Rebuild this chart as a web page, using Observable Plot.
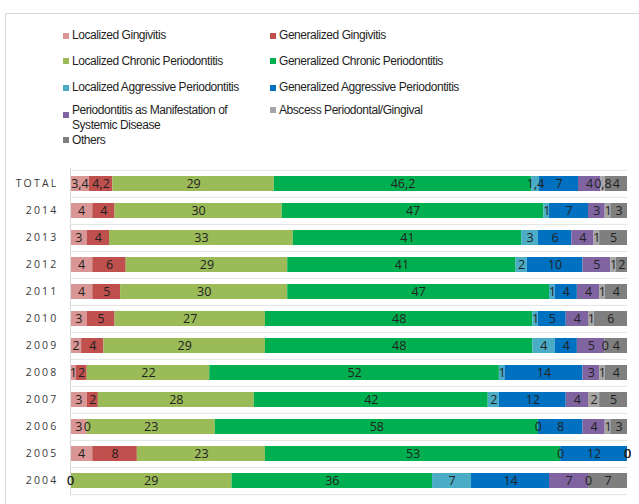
<!DOCTYPE html>
<html><head><meta charset="utf-8">
<script src="https://cdn.jsdelivr.net/npm/d3@7"></script>
<script src="https://cdn.jsdelivr.net/npm/@observablehq/plot@0.6"></script>
<style>
body{margin:0;background:#fff;width:639px;height:504px;overflow:hidden;position:relative;font-family:"Liberation Sans",Arial,sans-serif}
#frame{position:absolute;left:5px;top:13px;width:700px;height:600px;border:1px solid #d9d9d9;box-sizing:border-box}
.item{position:absolute;font-size:12px;color:#1f1f1f;letter-spacing:-0.45px;line-height:15px;white-space:nowrap}
.sw{position:absolute;width:6px;height:6px}
#chart{position:absolute;left:0;top:160px}
</style></head><body>
<div id="frame"></div><div id="legend"></div><div id="chart"></div>
<script>
const rows = ["TOTAL","2014","2013","2012","2011","2010","2009","2008","2007","2006","2005","2004"];
const seriesNames = ["Localized Gingivitis","Generalized Gingivitis","Localized Chronic Periodontitis","Generalized Chronic Periodontitis","Localized Aggressive Periodontitis","Generalized Aggressive Periodontitis","Periodontitis as Manifestation of Systemic Disease","Abscess Periodontal/Gingival","Others"];
const colors = ["#DA9694","#C0504D","#9BBB59","#00B050","#4BACC6","#0070C0","#8064A2","#A6A6A6","#7F7F7F"];
const localizedGingivitis   = [3.4,4,3,4,4,3,2,1,3,3,4,0];
const generalizedGingivitis = [4.2,4,4,6,5,5,4,2,2,0,8,0];
const localizedChronic      = [29,30,33,29,30,27,29,22,28,23,23,29];
const generalizedChronic    = [46.2,47,41,41,47,48,48,52,42,58,53,36];
const localizedAggressive   = [1.4,1,3,2,1,1,4,1,2,0,0,7];
const generalizedAggressive = [7,7,6,10,4,5,4,14,12,8,12,14];
const systemicDisease       = [4,3,4,5,4,4,5,3,4,4,0,7];
const abscess               = [0.8,1,1,1,1,1,0,1,2,1,0,0];
const others                = [4,3,5,2,4,6,4,4,5,3,0,7];
const seriesValues = [localizedGingivitis,generalizedGingivitis,localizedChronic,generalizedChronic,localizedAggressive,generalizedAggressive,systemicDisease,abscess,others];

const data = rows.flatMap((r,i)=>seriesValues.map((arr,j)=>({row:r, series:seriesNames[j], value:arr[i]})));
const fmt = v => String(v).replace(".", ",");

// legend
const legendPos = [[63,72,35.7],[270,279,35.7],[63,72,61],[270,279,61],[63,72,87.7],[270,279,87.7],[63,72,110],[270,279,110],[63,72,140]];
const legend = document.getElementById("legend");
seriesNames.forEach((name,j)=>{
  const [sx,tx,cy] = legendPos[j];
  const sw = document.createElement("div");
  sw.className="sw"; sw.style.background=colors[j];
  sw.style.left=sx+"px"; sw.style.top=(j===6?cy+2:cy-3)+"px";
  legend.appendChild(sw);
  const t = document.createElement("div");
  t.className="item"; t.style.left=tx+"px"; t.style.top=(cy-7.5)+"px";
  if (j===6) { t.innerHTML = "Periodontitis as Manifestation of<br>Systemic Disease"; }
  else t.textContent = name;
  legend.appendChild(t);
});

const step = 327/12;
const chart = Plot.plot({
  width: 639, height: 344,
  marginLeft: 70, marginRight: 12, marginTop: 8, marginBottom: 9,
  x: {domain:[0,100], axis:null},
  y: {domain: rows, paddingInner:0.45, paddingOuter:0.225, label:null},
  color: {domain: seriesNames, range: colors},
  marks: [
    Plot.ruleY(rows, {y: d=>d, dy: -step/2, stroke:"#e3e3e3"}),
    Plot.ruleY(rows.slice(-1), {y: d=>d, dy: step/2, stroke:"#e3e3e3"}),
    Plot.barX(data, Plot.stackX({x:"value", y:"row", fill:"series", order:null})),
    Plot.ruleX([0], {stroke:"#d9d9d9"}),
    Plot.text(data, Plot.stackX({x:"value", y:"row", text: d=>fmt(d.value), order:null, fill:"#222", fontSize:12.5, fontFamily:"Open Sans"})),
    Plot.axisY({tickSize:0, tickPadding:12, fontSize:10.5, fontWeight:"normal", fill:"#3a3a3a", fontFamily:"Open Sans", label:null})
  ]
});
d3.select(chart).selectAll("g[aria-label='y-axis tick label'] text").attr("letter-spacing","2.2px");
document.getElementById("chart").appendChild(chart);
</script>
</body></html>
